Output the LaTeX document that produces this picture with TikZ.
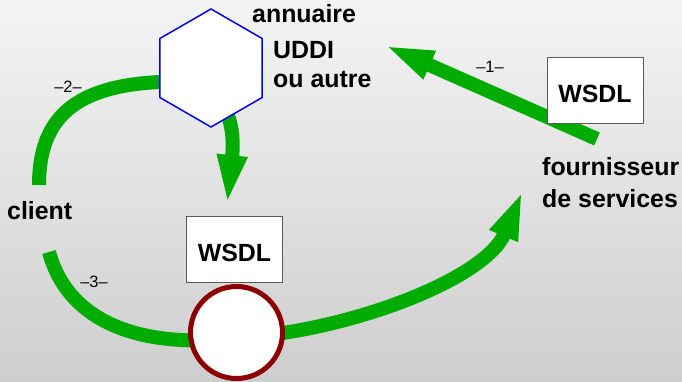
\documentclass[tikz,border=0pt]{standalone}
\usepackage{fontspec}
\setmainfont{Liberation Sans}
\usetikzlibrary{arrows.meta,shapes.geometric,backgrounds}
\definecolor{flux}{RGB}{0,172,0}
\definecolor{bordeaux}{RGB}{140,0,0}
\definecolor{fondhaut}{RGB}{244,244,244}
\definecolor{fondbas}{RGB}{206,206,206}
\tikzset{
  etiquette/.style={font=\fontsize{25}{29}\selectfont\bfseries,inner sep=0pt,align=left},
  numero/.style={font=\fontsize{16.5}{18}\selectfont,inner sep=0pt},
  wsdl/.style={draw=black!65,line width=1bp,fill=white,minimum width=96bp,minimum height=66bp,
    inner sep=0pt,text height=25bp,font=\fontsize{25}{29}\selectfont\bfseries},
  fleche/.style={draw=flux,line width=14bp,-{Triangle[length=50bp,width=27bp]}}
}
\begin{document}
\begin{tikzpicture}[x=1bp,y=-1bp]
  \useasboundingbox (0,0) rectangle (682,381);
  % noeuds
  \node[regular polygon,regular polygon sides=6,shape border rotate=30,minimum size=118bp,
    inner sep=0pt,draw=blue,line width=1.5bp,fill=white] (annuaire) at (211,68) {};
  \node[circle,minimum size=92bp,inner sep=0pt,draw=bordeaux,line width=5bp,fill=white] (service) at (236.5,332.5) {};
  \node[wsdl] (wsdlA) at (595,90) {WSDL};
  \node[wsdl] (wsdlB) at (234.5,249) {WSDL};
  \node[etiquette,anchor=base west] (annu) at (252,22) {annuaire};
  \node[etiquette,anchor=base west] (uddi) at (273,87) {UDDI\\ou autre};
  \node[etiquette,anchor=base west] (four) at (542,207) {fournisseur\\[3bp]de services};
  \node[etiquette,anchor=base west] (client) at (7,219) {client};
  \node[numero] (n1) at (490,67) {–1–};
  \node[numero] (n2) at (68,87) {–2–};
  \node[numero] (n3) at (94,282) {–3–};
  \path
    (597,139) coordinate (fourA)
    (384,45) coordinate (annB)
    (39,185) coordinate (cliN)
    (160,82) coordinate (annG)
    (227,205) coordinate (wsdlH)
    (49,252) coordinate (cliS)
    (236,338) coordinate (servJ)
    (523,190) coordinate (fourB);
  % fleches
  \begin{pgfonlayer}{background}
    \shade[top color=fondhaut,bottom color=fondbas] (0,0) rectangle (682,381);
    \draw[fleche] (fourA) -- (annB);
    \draw[fleche] (cliN) .. controls (39,118) and (75,86) .. (annG)
      .. controls (225,78) and (236,120) .. (wsdlH);
    \draw[fleche] (cliS) .. controls (68,322) and (140,349) .. (servJ)
      .. controls (346,332) and (485,280) .. (fourB);
  \end{pgfonlayer}
\end{tikzpicture}
\end{document}
